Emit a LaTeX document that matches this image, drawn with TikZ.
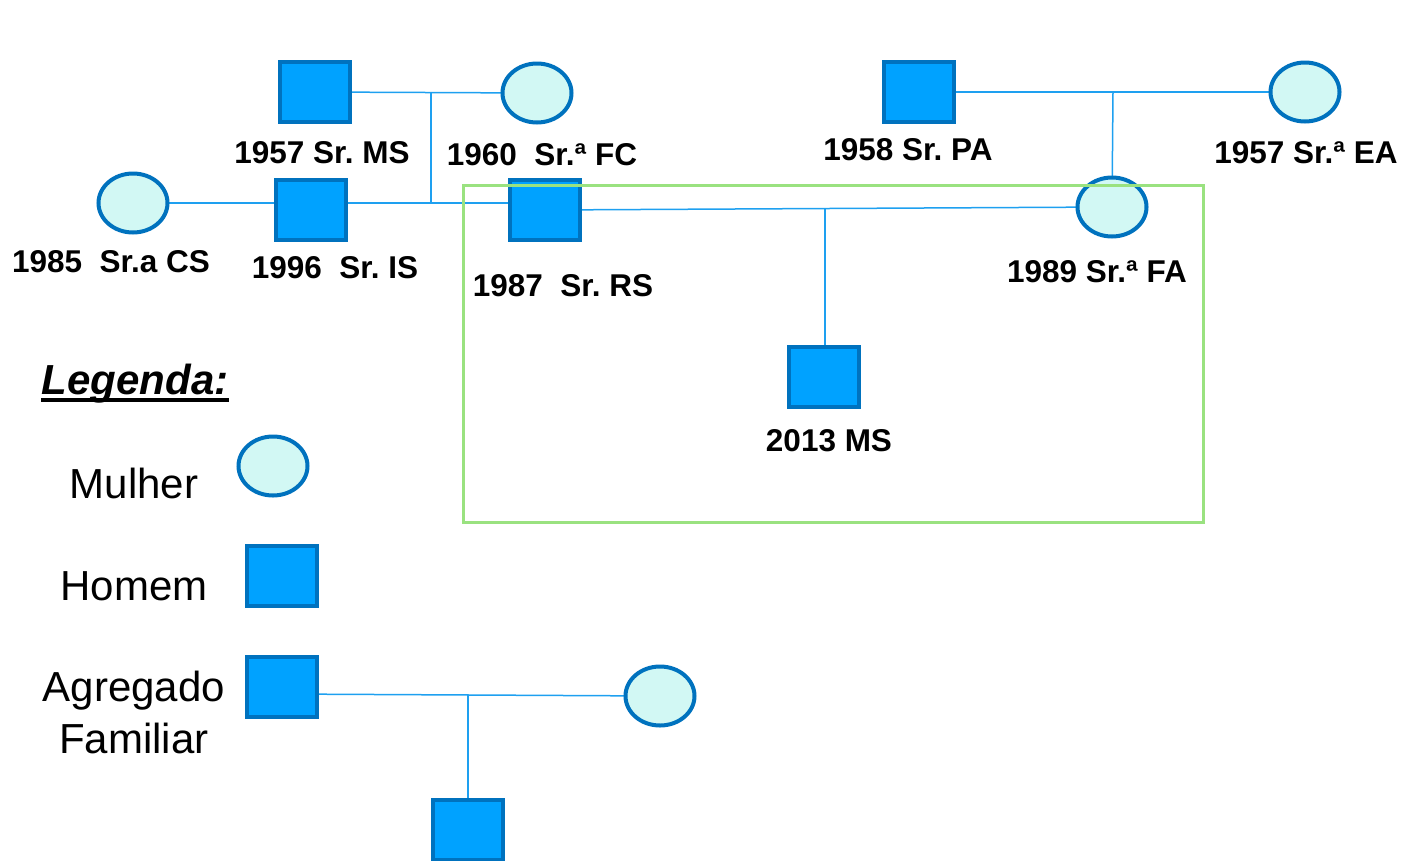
\documentclass[tikz,border=0pt]{standalone}
\usepackage{fontspec}
\setmainfont{Liberation Sans}
\frenchspacing
\usetikzlibrary{calc,shapes.geometric}
\definecolor{sqfill}{RGB}{0,162,255}
\definecolor{shedge}{RGB}{0,114,190}
\definecolor{elfill}{RGB}{210,248,244}
\definecolor{lnk}{RGB}{30,160,240}
\definecolor{grn}{RGB}{154,226,128}
\tikzset{
  man/.style={rectangle, draw=shedge, fill=sqfill, line width=4pt, minimum width=70pt, minimum height=60pt, inner sep=0pt},
  woman/.style={ellipse, draw=shedge, fill=elfill, line width=4pt, minimum width=69pt, minimum height=59pt, inner sep=0pt},
  lnkline/.style={draw=lnk, line width=1.5pt},
  lbl/.style={anchor=base, inner sep=0pt, font=\fontsize{31.5}{36}\selectfont\bfseries},
  leg/.style={anchor=base, inner sep=0pt, font=\fontsize{42}{52}\selectfont},
}
\begin{document}
\begin{tikzpicture}[x=1pt,y=-1pt]
\useasboundingbox[fill=white] (0,0) rectangle (1405,860);
% junction coordinates
\coordinate (j1) at (431,92);
\coordinate (j2) at (825,209);
\coordinate (j3) at (1113,92);
\coordinate (j4) at (468,695);
% connectors first (behind shapes)
\coordinate (pMS) at (315,92);
\coordinate (pFC) at (537,93);
\coordinate (pCS) at (133,203);
\coordinate (pRS) at (545,210);
\coordinate (pFA) at (1112,207);
\coordinate (pPA) at (919,92);
\coordinate (pEA) at (1305,92);
\coordinate (pKID) at (824,377);
\coordinate (pLA) at (282,694);
\coordinate (pLB) at (660,696);
\coordinate (pLC) at (468,830);
\draw[lnkline] (pMS) -- (pFC);
\draw[lnkline] (j1) -- (j1 |- pCS);
\draw[lnkline] (pCS) -- (pCS -| pRS);
\draw[lnkline] (pRS) -- (pFA);
\draw[lnkline] (j2) -- (j2 |- pKID);
\draw[lnkline] (pPA) -- (pEA);
\draw[lnkline] (j3) -- (pFA);
\draw[lnkline] (pLA) -- (pLB);
\draw[lnkline] (j4) -- (j4 |- pLC);
% nodes
\node[man] (MS) at (pMS) {};
\node[woman] (FC) at (pFC) {};
\node[woman] (CS) at (pCS) {};
\node[man] (IS) at (311,210) {};
\node[man] (RS) at (pRS) {};
\node[man] (PA) at (pPA) {};
\node[woman] (EA) at (pEA) {};
\node[woman] (FA) at (pFA) {};
\node[man] (KID) at (pKID) {};
% legend shapes
\node[woman] (LW) at (273,466) {};
\node[man] (LM) at (282,576) {};
\node[man] (LA) at (282,687) {};
\node[woman] (LB) at (pLB) {};
\node[man] (LC) at (pLC) {};
% green box on top
\draw[draw=grn, line width=3pt] (463,185) rectangle (1203,522);
% labels
\node[lbl] (tMS) at (322,163) {1957 Sr. MS};
\node[lbl] (tFC) at (542,165) {1960\ \ Sr.ª FC};
\node[lbl] (tCS) at (111,272) {1985\ \ Sr.a CS};
\node[lbl] (tIS) at (335,278) {1996\ \ Sr. IS};
\node[lbl] (tRS) at (563,296) {1987\ \ Sr. RS};
\node[lbl] (tPA) at (908,160) {1958 Sr. PA};
\node[lbl] (tEA) at (1306,163) {1957 Sr.ª EA};
\node[lbl] (tFA) at (1097,282) {1989 Sr.ª FA};
\node[lbl] (tKID) at (829,451) {2013 MS};
% legend text
\node[leg, font=\fontsize{42}{52}\selectfont\bfseries\itshape] (tLeg) at (135,394) {Legenda:};
\draw[line width=3.5pt] (tLeg.base west |- 0,400) -- (tLeg.base east |- 0,400);
\node[leg] (tW) at (134,498) {Mulher};
\node[leg] (tM) at (134,600) {Homem};
\node[leg, align=center, anchor=north] (tA) at (134,671) {Agregado\\Familiar};
\end{tikzpicture}
\end{document}
